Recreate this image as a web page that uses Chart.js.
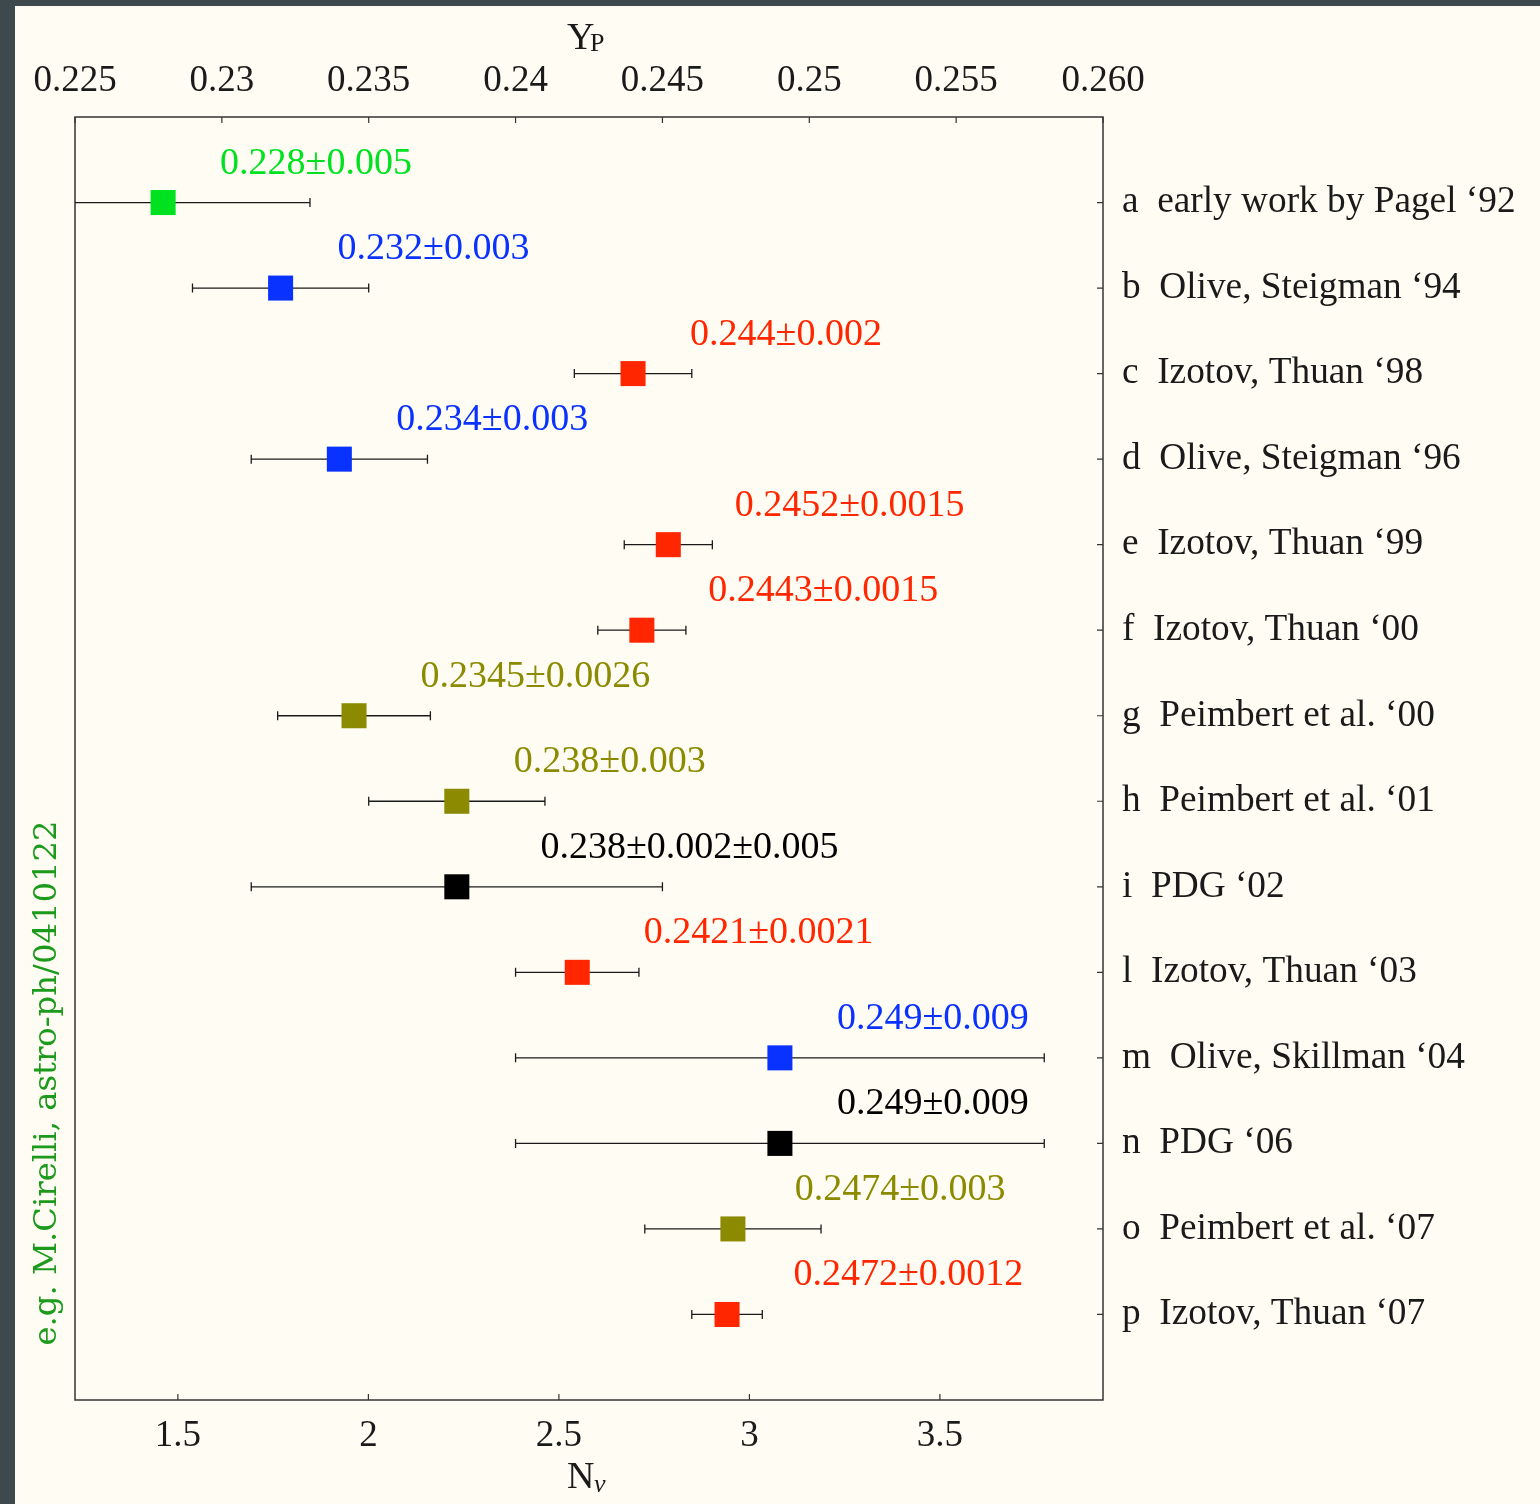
<!DOCTYPE html>
<html>
<head>
<meta charset="utf-8">
<script src="https://cdn.jsdelivr.net/npm/chart.js@4"></script>
<style>
  html, body { margin: 0; padding: 0; background: #3e494d; }
  #wrap { width: 1540px; height: 1504px; }
</style>
</head>
<body>
<div id="wrap"><canvas id="chart" width="1540" height="1504"></canvas></div>
<script>
// rows, top to bottom
const rowLabels = [
  'a  early work by Pagel \u201892',
  'b  Olive, Steigman \u201894',
  'c  Izotov, Thuan \u201898',
  'd  Olive, Steigman \u201896',
  'e  Izotov, Thuan \u201899',
  'f  Izotov, Thuan \u201800',
  'g  Peimbert et al. \u201800',
  'h  Peimbert et al. \u201801',
  'i  PDG \u201802',
  'l  Izotov, Thuan \u201803',
  'm  Olive, Skillman \u201804',
  'n  PDG \u201806',
  'o  Peimbert et al. \u201807',
  'p  Izotov, Thuan \u201807'
];
const ypValues = [0.228, 0.232, 0.244, 0.234, 0.2452, 0.2443, 0.2345, 0.238, 0.238, 0.2421, 0.249, 0.249, 0.2474, 0.2472];
const ypErrors = [0.005, 0.003, 0.002, 0.003, 0.0015, 0.0015, 0.0026, 0.003, 0.007, 0.0021, 0.009, 0.009, 0.003, 0.0012];
const valueTexts = [
  '0.228\u00b10.005', '0.232\u00b10.003', '0.244\u00b10.002', '0.234\u00b10.003',
  '0.2452\u00b10.0015', '0.2443\u00b10.0015', '0.2345\u00b10.0026', '0.238\u00b10.003',
  '0.238\u00b10.002\u00b10.005', '0.2421\u00b10.0021', '0.249\u00b10.009', '0.249\u00b10.009',
  '0.2474\u00b10.003', '0.2472\u00b10.0012'
];
const groupColors = {green: '#00e21f', blue: '#0a32ff', red: '#ff2600', olive: '#8c8a00', black: '#000000'};
const rowGroups = ['green', 'blue', 'red', 'blue', 'red', 'red', 'olive', 'olive', 'black', 'red', 'blue', 'black', 'olive', 'red'];

// top axis (Y_P) and bottom axis (N_nu)
const ypTicks = [0.225, 0.23, 0.235, 0.24, 0.245, 0.25, 0.255, 0.26];
const ypTickLabels = ['0.225', '0.23', '0.235', '0.24', '0.245', '0.25', '0.255', '0.260'];
const nuTicks = [1.5, 2, 2.5, 3, 3.5];
const nuTickLabels = ['1.5', '2', '2.5', '3', '3.5'];

const FONT = '"Liberation Serif", "Times New Roman", serif';
const INK = '#1a1a1a';

const pts = ypValues.map((v, i) => ({x: v, y: i}));
const colors = rowGroups.map(g => groupColors[g]);

const framePlugin = {
  id: 'frame',
  beforeDraw(chart) {
    const c = chart.ctx;
    c.save();
    c.fillStyle = '#3e494d';
    c.fillRect(0, 0, chart.width, chart.height);
    c.fillStyle = '#fffdf3';
    c.fillRect(15, 6, chart.width - 15, chart.height - 6);
    c.restore();
  },
  beforeDatasetsDraw(chart) {
    const c = chart.ctx;
    const a = chart.chartArea;
    const xs = chart.scales.x, xb = chart.scales.x2, ys = chart.scales.y;
    c.save();
    // box
    c.strokeStyle = '#333';
    c.lineWidth = 1.5;
    c.strokeRect(a.left, a.top, a.right - a.left, a.bottom - a.top);
    // inward ticks
    c.lineWidth = 1.2;
    c.beginPath();
    ypTicks.forEach(t => {
      const px = xs.getPixelForValue(t);
      c.moveTo(px, a.top); c.lineTo(px, a.top + 6);
    });
    nuTicks.forEach(t => {
      const px = xb.getPixelForValue(t);
      c.moveTo(px, a.bottom); c.lineTo(px, a.bottom - 6);
    });
    rowLabels.forEach((_, i) => {
      const py = ys.getPixelForValue(i);
      c.moveTo(a.right, py); c.lineTo(a.right - 6, py);
    });
    c.stroke();
    // error bars, clipped to the plot box
    c.beginPath();
    c.rect(a.left, a.top, a.right - a.left, a.bottom - a.top);
    c.clip();
    c.strokeStyle = INK;
    c.lineWidth = 1.3;
    ypValues.forEach((v, i) => {
      const py = ys.getPixelForValue(i);
      const x0 = xs.getPixelForValue(v - ypErrors[i]);
      const x1 = xs.getPixelForValue(v + ypErrors[i]);
      c.beginPath();
      c.moveTo(x0, py); c.lineTo(x1, py);
      c.moveTo(x0, py - 4.5); c.lineTo(x0, py + 4.5);
      c.moveTo(x1, py - 4.5); c.lineTo(x1, py + 4.5);
      c.stroke();
    });
    c.restore();
  },
  afterDraw(chart) {
    const c = chart.ctx;
    const xs = chart.scales.x, ys = chart.scales.y;
    c.save();
    // value labels
    c.font = '38px ' + FONT;
    c.textAlign = 'left';
    c.textBaseline = 'alphabetic';
    ypValues.forEach((v, i) => {
      const w = c.measureText(valueTexts[i]).width;
      c.fillStyle = colors[i];
      c.fillText(valueTexts[i], xs.getPixelForValue(v) + 9 + w / 4, ys.getPixelForValue(i) - 29);
    });
    // axis titles
    c.fillStyle = INK;
    c.font = '38px ' + FONT;
    c.fillText('Y', 567, 49);
    c.font = '26px ' + FONT;
    c.fillText('P', 590, 51);
    c.font = '38px ' + FONT;
    c.fillText('N', 567, 1488);
    c.font = 'italic 26px ' + FONT;
    c.fillText('\u03bd', 594, 1492);
    // side note
    c.translate(48, 1083);
    c.rotate(-Math.PI / 2);
    c.fillStyle = '#1c9a1c';
    c.font = '31px "DejaVu Serif", serif';
    c.textAlign = 'center';
    c.textBaseline = 'middle';
    const note = 'e.g. M.Cirelli, astro-ph/0410122';
    const nw = c.measureText(note).width;
    c.scale(525 / nw, 1);
    c.fillText(note, 0, 0);
    c.restore();
  }
};

new Chart(document.getElementById('chart'), {
  type: 'scatter',
  data: {
    datasets: [{
      data: pts,
      pointStyle: 'rect',
      pointRadius: 17.7,
      pointHoverRadius: 17.7,
      pointBackgroundColor: colors,
      pointBorderWidth: 0,
      pointBorderColor: colors
    }]
  },
  options: {
    responsive: false,
    animation: false,
    events: [],
    layout: {padding: {left: 75, right: 0, top: 0, bottom: 0}},
    plugins: {legend: {display: false}, tooltip: {enabled: false}},
    scales: {
      x: {
        type: 'linear', position: 'top', min: 0.225, max: 0.26,
        afterBuildTicks: s => { s.ticks = ypTicks.map(v => ({value: v})); },
        afterFit: s => { s.height = 117; },
        grid: {display: false, drawTicks: false},
        border: {display: false},
        ticks: {
          callback: (v, i) => ypTickLabels[i],
          font: {family: FONT, size: 37}, color: INK, padding: 14, maxRotation: 0, autoSkip: false
        }
      },
      x2: {
        type: 'linear', position: 'bottom', min: 1.23, max: 3.928,
        afterBuildTicks: s => { s.ticks = nuTicks.map(v => ({value: v})); },
        afterFit: s => { s.height = 104; },
        grid: {display: false, drawTicks: false},
        border: {display: false},
        ticks: {
          callback: (v, i) => nuTickLabels[i],
          font: {family: FONT, size: 37}, color: INK, padding: 14, maxRotation: 0, autoSkip: false
        }
      },
      y: {
        type: 'linear', position: 'right', reverse: true, min: -1, max: 14,
        afterBuildTicks: s => { s.ticks = rowLabels.map((_, i) => ({value: i})); },
        afterFit: s => { s.width = 437; },
        grid: {display: false, drawTicks: false},
        border: {display: false},
        ticks: {
          callback: v => rowLabels[v],
          font: {family: FONT, size: 37.3}, color: INK, padding: 19, autoSkip: false
        }
      }
    }
  },
  plugins: [framePlugin]
});
</script>
</body>
</html>
